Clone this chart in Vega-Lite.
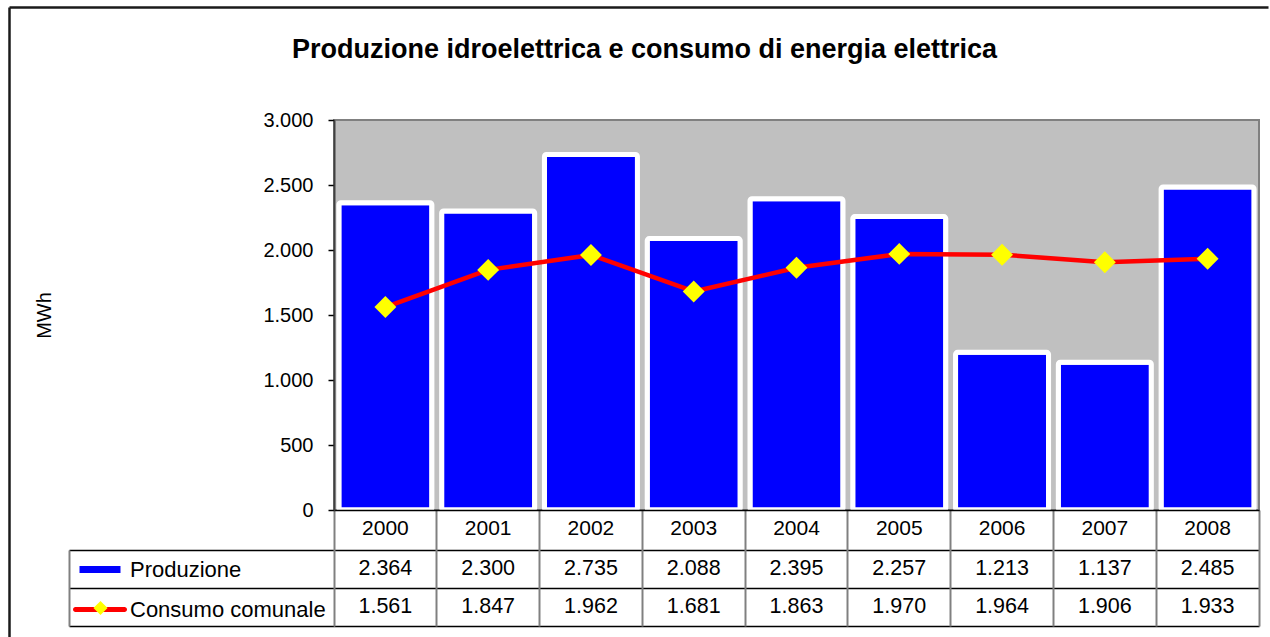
{
  "$schema": "https://vega.github.io/schema/vega-lite/v6.json",
  "width": 925,
  "height": 390,
  "autosize": {"type": "none"},
  "padding": {"left": 334, "top": 120, "right": 11, "bottom": 127},
  "background": "white",
  "config": {
    "locale": {"number": {"decimal": ",", "thousands": ".", "grouping": [3], "currency": ["€", ""]}},
    "font": "Liberation Sans",
    "view": {"fill": "#C0C0C0", "stroke": "#808080", "strokeWidth": 2}
  },
  "title": {
    "text": "Produzione idroelettrica e consumo di energia elettrica",
    "font": "Liberation Sans",
    "fontSize": 27,
    "fontWeight": "bold",
    "color": "black",
    "anchor": "middle",
    "frame": "group",
    "baseline": "alphabetic",
    "dx": -152,
    "offset": -78
  },
  "data": {
    "values": [
      {"anno": "2000", "serie": "Produzione", "valore": 2364},
      {"anno": "2001", "serie": "Produzione", "valore": 2300},
      {"anno": "2002", "serie": "Produzione", "valore": 2735},
      {"anno": "2003", "serie": "Produzione", "valore": 2088},
      {"anno": "2004", "serie": "Produzione", "valore": 2395},
      {"anno": "2005", "serie": "Produzione", "valore": 2257},
      {"anno": "2006", "serie": "Produzione", "valore": 1213},
      {"anno": "2007", "serie": "Produzione", "valore": 1137},
      {"anno": "2008", "serie": "Produzione", "valore": 2485},
      {"anno": "2000", "serie": "Consumo comunale", "valore": 1561},
      {"anno": "2001", "serie": "Consumo comunale", "valore": 1847},
      {"anno": "2002", "serie": "Consumo comunale", "valore": 1962},
      {"anno": "2003", "serie": "Consumo comunale", "valore": 1681},
      {"anno": "2004", "serie": "Consumo comunale", "valore": 1863},
      {"anno": "2005", "serie": "Consumo comunale", "valore": 1970},
      {"anno": "2006", "serie": "Consumo comunale", "valore": 1964},
      {"anno": "2007", "serie": "Consumo comunale", "valore": 1906},
      {"anno": "2008", "serie": "Consumo comunale", "valore": 1933}
    ]
  },
  "layer": [
    {
      "layer": [
        {
          "transform": [{"filter": "datum.serie === 'Produzione'"}],
          "mark": {"type": "bar", "fill": "#0000FF", "stroke": "white", "strokeWidth": 5, "cornerRadius": 2, "width": {"band": 0.905}},
          "encoding": {
            "x": {
              "field": "anno", "type": "ordinal",
              "scale": {"paddingInner": 0, "paddingOuter": 0},
              "axis": {
                "title": null, "orient": "bottom",
                "domainColor": "black", "domainWidth": 1.5,
                "ticks": true, "tickSize": 116, "tickColor": "#808080", "tickWidth": 2,
                "bandPosition": 1, "tickExtra": true,
                "labelAngle": 0, "labelFontSize": 21, "labelColor": "black", "labelBaseline": "middle",
                "labelPadding": -98,
                "grid": false, "zindex": 1
              }
            },
            "y": {
              "field": "valore", "type": "quantitative",
              "scale": {"domain": [0, 3000], "nice": false},
              "axis": {
                "title": "MWh", "values": [0, 500, 1000, 1500, 2000, 2500, 3000], "format": ",d",
                "domainColor": "#404040", "domainWidth": 2,
                "tickColor": "black", "tickSize": 6, "tickWidth": 1.5,
                "labelFontSize": 20, "labelColor": "black", "labelPadding": 15,
                "grid": false,
                "titleFontSize": 20, "titleFontWeight": "normal", "titleColor": "black",
                "titleX": -290, "titleY": 195, "titleBaseline": "middle", "zindex": 1
              }
            }
          }
        },
        {
          "transform": [{"filter": "datum.serie === 'Consumo comunale'"}],
          "mark": {"type": "line", "stroke": "#FF0000", "strokeWidth": 4.5, "strokeJoin": "round"},
          "encoding": {
            "x": {"field": "anno", "type": "ordinal"},
            "y": {"field": "valore", "type": "quantitative"}
          }
        },
        {
          "mark": {"type": "point", "opacity": 0, "filled": true},
          "encoding": {
            "x": {"field": "anno", "type": "ordinal"},
            "y": {"field": "valore", "type": "quantitative"},
            "color": {
              "field": "serie", "type": "nominal",
              "scale": {"domain": ["Produzione", "Consumo comunale"], "range": ["#0000FF", "#FF0000"]},
              "legend": {
                "orient": "none", "legendX": -261, "legendY": 439.5,
                "title": null, "padding": 0, "direction": "vertical",
                "symbolSize": 2916, "clipHeight": 20, "rowPadding": 18,
                "symbolOpacity": 1, "symbolStrokeWidth": 0,
                "labelFontSize": 22, "labelColor": "black", "labelOffset": 3, "labelLimit": 300
              }
            },
            "shape": {
              "field": "serie", "type": "nominal",
              "scale": {
                "domain": ["Produzione", "Consumo comunale"],
                "range": [
                  "M-0.759,-0.13H0.759V0.13H-0.759Z",
                  "M-0.907,-0.093H0.907A0.093,0.093 0 0 1 0.907,0.093H-0.907A0.093,0.093 0 0 1 -0.907,-0.093Z"
                ]
              },
              "legend": {
                "orient": "none", "legendX": -261, "legendY": 439.5,
                "title": null, "padding": 0, "direction": "vertical",
                "symbolSize": 2916, "clipHeight": 20, "rowPadding": 18,
                "symbolOpacity": 1, "symbolStrokeWidth": 0,
                "labelFontSize": 22, "labelColor": "black", "labelOffset": 3, "labelLimit": 300
              }
            }
          }
        },
        {
          "transform": [{"filter": "datum.serie === 'Consumo comunale'"}],
          "mark": {"type": "point", "filled": true, "shape": "diamond", "size": 480, "strokeWidth": 0, "opacity": 1},
          "encoding": {
            "x": {"field": "anno", "type": "ordinal"},
            "y": {"field": "valore", "type": "quantitative"},
            "fill": {
              "field": "serie", "type": "nominal",
              "scale": {"domain": ["Consumo comunale"], "range": ["#FFFF00"]},
              "legend": {
                "orient": "none", "legendX": -241, "legendY": 480.5,
                "title": null, "padding": 0,
                "symbolType": "diamond", "symbolSize": 200, "symbolStrokeWidth": 0, "symbolOpacity": 1,
                "labelExpr": "''", "labelFontSize": 1
              }
            }
          }
        }
      ]
    },
    {
      "mark": {"type": "text", "fontSize": 21.5, "color": "black", "baseline": "middle"},
      "encoding": {
        "x": {"field": "anno", "type": "ordinal", "scale": {"paddingInner": 0, "paddingOuter": 0}, "axis": null},
        "y": {
          "field": "serie", "type": "nominal",
          "sort": ["Produzione", "Consumo comunale"],
          "scale": {"domain": ["Produzione", "Consumo comunale"], "range": [430, 506], "paddingInner": 0, "paddingOuter": 0},
          "axis": {
            "orient": "left", "offset": 265, "title": null, "labels": false,
            "domain": true, "domainColor": "#808080", "domainWidth": 2,
            "ticks": true, "tickSize": -265, "tickColor": "black", "tickWidth": 1.5,
            "tickBand": "extent",
            "grid": true, "gridColor": "black", "gridWidth": 1.5
          }
        },
        "text": {"field": "valore", "type": "quantitative", "format": ",d"}
      }
    },
    {
      "mark": {"type": "point", "opacity": 0},
      "encoding": {
        "x": {
          "field": "valore", "type": "quantitative",
          "scale": {"domain": [0, 3000], "range": [-325, 934], "nice": false, "zero": false},
          "axis": {"orient": "top", "offset": 113, "title": null, "labels": false, "ticks": false, "grid": false, "domainColor": "#1a1a1a", "domainWidth": 2.5}
        },
        "y": {
          "field": "valore", "type": "quantitative",
          "scale": {"domain": [0, 3000], "range": [517, -113], "nice": false, "zero": false},
          "axis": {"orient": "left", "offset": 325, "title": null, "labels": false, "ticks": false, "grid": false, "domainColor": "#1a1a1a", "domainWidth": 2.5}
        }
      }
    }
  ],
  "resolve": {"scale": {"y": "independent", "x": "independent"}}
}
